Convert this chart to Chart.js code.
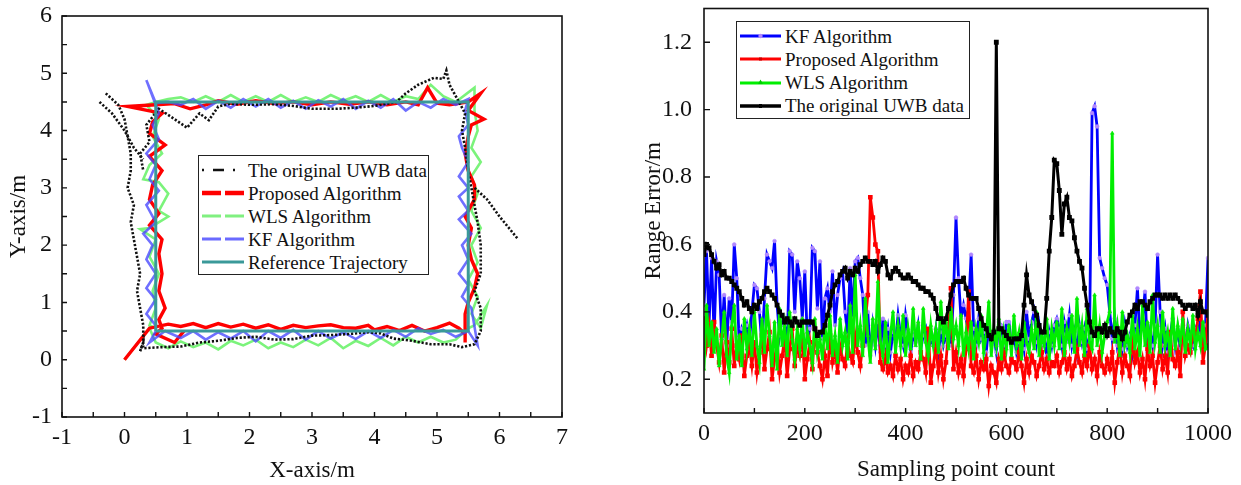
<!DOCTYPE html>
<html><head><meta charset="utf-8">
<script src="https://cdn.jsdelivr.net/npm/chart.js@4.4.0/dist/chart.umd.min.js"></script>
<style>
body{margin:0;background:#fff;width:1241px;height:485px;overflow:hidden;position:relative;font-family:"Liberation Serif","Times New Roman",serif}
#c1wrap{position:absolute;left:0;top:0;width:600px;height:485px}
#c2wrap{position:absolute;left:630px;top:0;width:611px;height:485px}
.legend{position:absolute;background:#fff;border:1.5px solid #222;box-sizing:border-box;font-size:19px;color:#111}
.row{position:absolute;left:0;height:23px;display:flex;align-items:center;white-space:nowrap;line-height:23px}
.row svg{flex:none}
</style></head><body>
<div id="c1wrap"><canvas id="c1" width="600" height="485"></canvas></div>
<div id="c2wrap"><canvas id="c2" width="611" height="485"></canvas></div>
<div id="leg1" class="legend" style="left:198px;top:155px;width:231px;height:120px"></div>
<div id="leg2" class="legend" style="left:736px;top:21px;width:234px;height:98px"></div>
<script>
// ---------------- LEFT CHART DATA (trajectories, metres) ----------------
const referenceXY = [[0.5,0.5],[5.5,0.5],[5.5,4.5],[0.5,4.5],[0.5,0.5]];
const proposedXY = [[0,0],[0.4,0.55],[0.7,0.62],[0.9,0.58],[1.1,0.63],[1.3,0.56],[1.5,0.63],[1.7,0.57],[1.9,0.62],[2.1,0.55],[2.3,0.61],[2.5,0.53],[2.7,0.6],[2.9,0.56],[3.1,0.59],[3.3,0.61],[3.5,0.56],[3.7,0.55],[3.9,0.6],[4.0,0.52],[4.2,0.58],[4.4,0.51],[4.6,0.6],[4.8,0.5],[5.0,0.56],[5.2,0.64],[5.35,0.55],[5.45,0.45],[5.45,0.3],[5.45,0.8],[5.5,1.0],[5.6,1.25],[5.65,1.5],[5.55,1.75],[5.5,2.0],[5.55,2.3],[5.45,2.5],[5.6,2.8],[5.6,3.05],[5.5,3.3],[5.45,3.6],[5.5,3.9],[5.55,4.1],[5.75,4.2],[5.5,4.35],[5.7,4.65],[5.5,4.5],[5.2,4.45],[5.0,4.48],[4.85,4.75],[4.7,4.45],[4.5,4.5],[4.2,4.45],[3.9,4.5],[3.6,4.46],[3.3,4.5],[3.0,4.45],[2.7,4.5],[2.4,4.47],[2.1,4.52],[1.8,4.46],[1.5,4.52],[1.3,4.45],[1.05,4.38],[0.8,4.47],[0.5,4.45],[0.05,4.42],[0.6,4.3],[0.45,4.15],[0.4,3.95],[0.65,3.75],[0.4,3.55],[0.6,3.3],[0.45,3.05],[0.4,2.8],[0.55,2.55],[0.4,2.35],[0.6,2.1],[0.55,1.85],[0.6,1.5],[0.55,1.2],[0.65,0.9],[0.55,0.7],[0.6,0.55],[0.5,0.45],[0.8,0.3],[0.95,0.5]];
const wlsXY = [[0,0],[0.4,0.55],[0.5,0.3],[0.7,0.2],[0.9,0.32],[1.1,0.22],[1.3,0.3],[1.5,0.18],[1.7,0.33],[1.9,0.25],[2.1,0.35],[2.3,0.2],[2.5,0.3],[2.7,0.22],[2.9,0.35],[3.1,0.25],[3.3,0.38],[3.5,0.2],[3.7,0.33],[3.9,0.24],[4.1,0.38],[4.3,0.25],[4.5,0.4],[4.7,0.3],[4.9,0.4],[5.1,0.3],[5.3,0.35],[5.5,0.55],[5.6,0.6],[5.8,0.95],[5.7,0.55],[5.55,0.8],[5.65,1.1],[5.5,1.4],[5.65,1.7],[5.55,2.0],[5.7,2.3],[5.55,2.6],[5.65,2.9],[5.55,3.2],[5.7,3.45],[5.55,3.7],[5.65,4.0],[5.6,4.35],[5.6,4.75],[5.3,4.5],[5.1,4.6],[4.9,4.8],[4.7,4.55],[4.5,4.6],[4.3,4.5],[4.1,4.62],[3.9,4.5],[3.7,4.6],[3.5,4.52],[3.3,4.62],[3.1,4.5],[2.9,4.58],[2.7,4.5],[2.5,4.62],[2.3,4.5],[2.1,4.6],[1.9,4.5],[1.7,4.62],[1.5,4.5],[1.3,4.6],[1.1,4.5],[0.9,4.58],[0.7,4.55],[0.5,4.5],[0.35,4.45],[0.55,4.2],[0.45,3.9],[0.6,3.6],[0.4,3.4],[0.3,3.15],[0.55,3.1],[0.7,2.9],[0.55,2.6],[0.7,2.5],[0.4,2.3],[0.25,2.28],[0.5,2.1],[0.4,1.8],[0.55,1.5],[0.45,1.2],[0.5,0.9],[0.4,0.6],[0.5,0.55]];
const kfXY = [[0.5,0.5],[0.4,0.3],[0.65,0.5],[0.9,0.38],[1.1,0.5],[1.3,0.35],[1.5,0.48],[1.7,0.37],[1.9,0.5],[2.1,0.32],[2.3,0.5],[2.5,0.38],[2.7,0.52],[2.9,0.35],[3.1,0.5],[3.3,0.37],[3.5,0.48],[3.7,0.36],[3.9,0.5],[4.1,0.38],[4.3,0.52],[4.5,0.4],[4.7,0.55],[4.9,0.45],[5.1,0.52],[5.3,0.4],[5.5,0.5],[5.65,0.25],[5.55,0.9],[5.4,1.1],[5.5,1.3],[5.35,1.5],[5.5,1.75],[5.4,2.0],[5.55,2.2],[5.35,2.45],[5.5,2.6],[5.35,2.85],[5.5,3.0],[5.35,3.2],[5.5,3.45],[5.4,3.7],[5.35,3.9],[5.5,4.1],[5.45,4.35],[5.5,4.55],[5.3,4.45],[5.1,4.55],[4.9,4.4],[4.7,4.5],[4.5,4.35],[4.3,4.55],[4.1,4.4],[3.9,4.52],[3.7,4.38],[3.5,4.55],[3.3,4.42],[3.1,4.53],[2.9,4.38],[2.7,4.52],[2.5,4.4],[2.3,4.55],[2.1,4.42],[1.9,4.55],[1.7,4.4],[1.5,4.52],[1.3,4.38],[1.1,4.55],[0.9,4.45],[0.7,4.5],[0.5,4.48],[0.35,4.88],[0.55,4.3],[0.45,4.1],[0.55,3.85],[0.35,3.6],[0.5,3.4],[0.4,3.15],[0.55,2.95],[0.35,2.7],[0.5,2.4],[0.3,2.2],[0.45,2.0],[0.35,1.75],[0.5,1.5],[0.35,1.25],[0.5,1.05],[0.35,0.8],[0.5,0.6]];
const uwbBottomRight = [[0.25,0.15],[0.3,0.3],[0.3,0.2],[0.6,0.22],[0.9,0.23],[1.2,0.3],[1.5,0.33],[1.8,0.38],[2.1,0.4],[2.4,0.35],[2.7,0.36],[3.0,0.42],[3.3,0.43],[3.6,0.45],[3.9,0.48],[4.1,0.46],[4.3,0.37],[4.6,0.33],[4.9,0.27],[5.2,0.27],[5.4,0.22],[5.6,0.27],[5.7,0.5],[5.7,0.9],[5.6,1.2],[5.7,1.5],[5.7,2.0],[5.65,2.4],[5.6,2.7],[5.55,3.0],[5.5,3.3]];
const uwbTop = [[5.5,3.3],[5.45,3.7],[5.4,4.0],[5.45,4.3],[5.3,4.6],[5.2,4.8],[5.15,5.05],[5.1,4.9],[4.95,4.92],[4.7,4.8],[4.5,4.65],[4.35,4.5],[4.0,4.43],[3.7,4.4],[3.4,4.38],[3.0,4.38],[2.7,4.43],[2.4,4.46],[2.0,4.45],[1.7,4.47],[1.5,4.42],[1.35,4.18],[1.2,4.3],[1.0,4.05],[0.8,4.2],[0.55,4.38],[0.35,4.1],[0.4,3.8],[0.25,3.6],[0.3,3.3]];
const uwbLeftOuter = [[-0.3,4.65],[-0.1,4.45],[0.0,4.2],[0.05,3.9],[0.1,3.6],[0.1,3.3],[0.05,3.0],[0.15,2.7],[0.1,2.4],[0.15,2.1],[0.2,1.8],[0.25,1.5],[0.2,1.2],[0.25,0.9],[0.3,0.6],[0.3,0.3],[0.25,0.15]];
const uwbLeftInner = [[-0.4,4.5],[-0.2,4.3],[0.0,4.0],[0.15,3.7],[0.3,3.5]];
const uwbTail = [[5.6,3.0],[5.8,2.8],[6.0,2.5],[6.3,2.1]];

// ---------------- RIGHT CHART DATA (range error, m) ----------------
const sampleStep = 5; // one value every 5 sampling points, 0..1000
const kfError = [
0.42,0.58,0.36,0.56,0.33,0.55,0.51,0.32,0.45,0.30,0.44,0.37,0.60,0.50,0.30,0.35,0.33,0.36,0.31,0.40,
0.48,0.47,0.40,0.30,0.44,0.57,0.55,0.53,0.61,0.42,0.33,0.38,0.36,0.30,0.58,0.57,0.40,0.55,0.50,0.38,
0.52,0.32,0.35,0.59,0.58,0.41,0.55,0.32,0.44,0.47,0.40,0.52,0.36,0.45,0.50,0.52,0.40,0.33,0.53,0.38,
0.55,0.56,0.50,0.45,0.30,0.40,0.27,0.36,0.30,0.37,0.28,0.38,0.30,0.35,0.28,0.34,0.31,0.39,0.33,0.30,
0.39,0.34,0.28,0.33,0.31,0.36,0.29,0.33,0.35,0.29,0.32,0.30,0.35,0.28,0.34,0.30,0.33,0.36,0.30,0.45,
0.68,0.50,0.38,0.42,0.38,0.41,0.57,0.35,0.30,0.38,0.32,0.34,0.28,0.36,0.30,0.33,0.28,0.37,0.36,0.30,
0.37,0.37,0.30,0.33,0.28,0.31,0.34,0.29,0.40,0.32,0.37,0.40,0.31,0.36,0.30,0.33,0.27,0.34,0.30,0.36,
0.38,0.35,0.30,0.37,0.33,0.39,0.30,0.34,0.28,0.36,0.31,0.35,0.29,0.33,0.99,1.01,0.95,0.56,0.53,0.50,
0.48,0.40,0.32,0.38,0.30,0.33,0.29,0.36,0.30,0.33,0.28,0.36,0.47,0.32,0.38,0.46,0.28,0.34,0.30,0.36,
0.57,0.40,0.30,0.35,0.28,0.33,0.38,0.30,0.35,0.29,0.34,0.30,0.36,0.32,0.30,0.35,0.33,0.38,0.29,0.36,
0.56];
const proposedError = [
0.38,0.30,0.36,0.27,0.37,0.30,0.25,0.33,0.22,0.31,0.25,0.35,0.24,0.30,0.26,0.33,0.21,0.27,0.30,0.24,
0.31,0.22,0.28,0.33,0.23,0.29,0.34,0.20,0.26,0.31,0.22,0.27,0.32,0.21,0.29,0.35,0.24,0.30,0.27,0.33,
0.20,0.26,0.31,0.23,0.35,0.28,0.24,0.20,0.27,0.21,0.33,0.25,0.29,0.22,0.30,0.26,0.24,0.31,0.27,0.25,
0.33,0.28,0.24,0.30,0.37,0.45,0.74,0.68,0.60,0.58,0.25,0.23,0.27,0.22,0.24,0.21,0.27,0.23,0.26,0.20,
0.24,0.22,0.27,0.21,0.25,0.23,0.28,0.26,0.22,0.35,0.19,0.24,0.30,0.22,0.27,0.20,0.25,0.34,0.47,0.23,
0.28,0.22,0.26,0.21,0.29,0.46,0.24,0.22,0.27,0.20,0.25,0.23,0.26,0.18,0.24,0.22,0.19,0.26,0.23,0.28,
0.24,0.22,0.26,0.25,0.23,0.28,0.24,0.19,0.26,0.22,0.27,0.25,0.21,0.24,0.28,0.23,0.26,0.22,0.25,0.24,
0.27,0.22,0.25,0.28,0.23,0.26,0.21,0.24,0.29,0.25,0.22,0.27,0.24,0.30,0.23,0.26,0.21,0.28,0.24,0.22,
0.26,0.23,0.28,0.19,0.25,0.30,0.22,0.27,0.24,0.21,0.33,0.25,0.28,0.22,0.26,0.20,0.29,0.24,0.27,0.19,
0.25,0.30,0.23,0.27,0.22,0.34,0.26,0.24,0.28,0.21,0.40,0.27,0.30,0.28,0.34,0.32,0.38,0.46,0.25,0.30,
0.40];
const wlsError = [
0.23,0.42,0.30,0.37,0.28,0.35,0.24,0.32,0.40,0.27,0.22,0.36,0.42,0.26,0.33,0.24,0.38,0.29,0.35,0.27,
0.40,0.30,0.25,0.38,0.28,0.42,0.33,0.24,0.37,0.23,0.41,0.30,0.36,0.27,0.40,0.32,0.26,0.35,0.29,0.38,
0.27,0.34,0.30,0.25,0.38,0.28,0.32,0.26,0.36,0.29,0.39,0.27,0.33,0.25,0.38,0.30,0.34,0.26,0.42,0.28,
0.51,0.30,0.36,0.27,0.44,0.33,0.25,0.38,0.29,0.49,0.31,0.27,0.37,0.25,0.33,0.40,0.28,0.36,0.30,0.39,
0.27,0.35,0.29,0.41,0.30,0.37,0.26,0.41,0.31,0.27,0.36,0.30,0.35,0.28,0.43,0.32,0.37,0.29,0.41,0.32,
0.36,0.30,0.39,0.27,0.34,0.29,0.37,0.26,0.35,0.31,0.39,0.28,0.33,0.43,0.27,0.35,0.30,0.38,0.26,0.34,
0.29,0.36,0.27,0.39,0.30,0.34,0.26,0.37,0.31,0.28,0.35,0.29,0.40,0.27,0.33,0.30,0.38,0.26,0.35,0.30,
0.37,0.29,0.41,0.27,0.35,0.31,0.39,0.28,0.44,0.30,0.36,0.27,0.41,0.31,0.29,0.45,0.30,0.36,0.28,0.33,
0.37,0.40,0.93,0.31,0.36,0.27,0.40,0.30,0.33,0.28,0.39,0.29,0.35,0.27,0.42,0.30,0.37,0.28,0.45,0.31,
0.36,0.28,0.40,0.30,0.34,0.27,0.41,0.29,0.36,0.31,0.38,0.28,0.35,0.30,0.39,0.29,0.34,0.30,0.37,0.29,
0.30];
const uwbError = [
0.57,0.60,0.59,0.57,0.55,0.53,0.54,0.51,0.52,0.50,0.50,0.49,0.48,0.47,0.46,0.44,0.42,0.43,0.41,0.40,
0.42,0.41,0.43,0.44,0.46,0.47,0.46,0.45,0.44,0.42,0.40,0.39,0.37,0.38,0.37,0.36,0.38,0.37,0.36,0.37,
0.37,0.37,0.37,0.37,0.35,0.33,0.34,0.34,0.36,0.39,0.42,0.46,0.48,0.49,0.51,0.52,0.53,0.50,0.52,0.51,
0.53,0.52,0.54,0.55,0.56,0.55,0.55,0.54,0.55,0.52,0.54,0.56,0.55,0.51,0.50,0.52,0.53,0.52,0.51,0.50,
0.50,0.51,0.50,0.49,0.49,0.48,0.47,0.47,0.46,0.46,0.45,0.44,0.41,0.38,0.38,0.37,0.38,0.41,0.45,0.48,
0.49,0.49,0.49,0.50,0.47,0.45,0.44,0.44,0.44,0.41,0.38,0.36,0.35,0.33,0.32,0.34,1.20,0.35,0.35,0.34,
0.33,0.32,0.31,0.32,0.32,0.32,0.33,0.42,0.51,0.45,0.43,0.41,0.39,0.36,0.34,0.34,0.44,0.58,0.68,0.85,
0.84,0.76,0.63,0.72,0.74,0.68,0.67,0.62,0.58,0.55,0.53,0.47,0.42,0.37,0.34,0.33,0.35,0.35,0.34,0.36,
0.33,0.35,0.34,0.33,0.35,0.34,0.32,0.34,0.37,0.39,0.40,0.42,0.41,0.43,0.43,0.42,0.41,0.43,0.44,0.45,
0.45,0.45,0.44,0.45,0.44,0.45,0.44,0.45,0.44,0.43,0.42,0.41,0.42,0.42,0.41,0.42,0.39,0.43,0.40,0.40,
0.39];
const errorTickValues = [0.2,0.4,0.6,0.8,1.0,1.2];

const leftLegendNames = ['The original UWB data','Proposed Algorithm','WLS Algorithm','KF Algorithm','Reference Trajectory'];
const rightLegendNames = ['KF Algorithm','Proposed Algorithm','WLS Algorithm','The original UWB data'];

// ---------------- helpers ----------------
const FONT = '"Liberation Serif", "Times New Roman", serif';
Chart.defaults.font.family = FONT;
Chart.defaults.color = '#111';
const toPts = arr => arr.map(p => ({x:p[0], y:p[1]}));
const toSeries = vals => vals.map((v,i) => ({x:i*sampleStep, y:v}));

function framePlugin(opt){
  return {id:'frame'+opt.id, afterDraw(chart){
    const {ctx, chartArea:a, scales} = chart;
    ctx.save();
    ctx.strokeStyle = '#111'; ctx.lineWidth = 1.6;
    ctx.strokeRect(a.left, a.top, a.right-a.left, a.bottom-a.top);
    ctx.lineWidth = 1.4;
    ctx.beginPath();
    opt.xMarks.forEach(m => { const px = scales.x.getPixelForValue(m[0]); ctx.moveTo(px, a.bottom); ctx.lineTo(px, a.bottom - m[1]); });
    opt.yMarks.forEach(m => { const py = scales.y.getPixelForValue(m[0]); ctx.moveTo(a.left, py); ctx.lineTo(a.left + m[1], py); });
    ctx.stroke();
    ctx.restore();
  }};
}
function marks(min,max,step,len){ const out=[]; for(let v=min; v<=max+1e-9; v+=step) out.push([+v.toFixed(3),len]); return out; }
function fixX(h){ return s => { s.height = h; s.paddingLeft = 0; s.paddingRight = 0; s.paddingTop = 0; s.paddingBottom = 0; }; }
function fixY(w){ return s => { s.width = w; s.paddingLeft = 0; s.paddingRight = 0; s.paddingTop = 0; s.paddingBottom = 0; }; }

const tickFont = {family:FONT, size:24};
const titleFont = {family:FONT, size:23};

// ---------------- LEFT CHART ----------------
const blackStyle = {borderColor:'#111', borderWidth:2.6, borderDash:[2.2,1.8], pointRadius:0, showLine:true, fill:false};
new Chart(document.getElementById('c1'), {
  type:'scatter',
  data:{datasets:[
    {data:toPts(referenceXY), borderColor:'#3a9999', borderWidth:3, pointRadius:0, showLine:true, order:1},
    {data:toPts(uwbBottomRight), ...blackStyle, order:2},
    {data:toPts(uwbTop), ...blackStyle, order:2},
    {data:toPts(uwbLeftOuter), ...blackStyle, order:2},
    {data:toPts(uwbLeftInner), ...blackStyle, order:2},
    {data:toPts(uwbTail), ...blackStyle, order:2},
    {data:toPts(kfXY), borderColor:'rgba(70,70,255,0.78)', borderWidth:2.6, pointRadius:0, showLine:true, order:3},
    {data:toPts(proposedXY), borderColor:'#ff0000', borderWidth:3.4, pointRadius:0, showLine:true, order:4},
    {data:toPts(wlsXY), borderColor:'rgba(90,240,90,0.8)', borderWidth:2.6, pointRadius:0, showLine:true, order:5}
  ]},
  options:{
    responsive:false, animation:false, events:[],
    layout:{padding:{top:16, right:38, left:0, bottom:0}},
    plugins:{legend:{display:false}, tooltip:{enabled:false}},
    scales:{
      x:{type:'linear', min:-1, max:7, ticks:{stepSize:1, padding:-2, color:'#111', font:tickFont, callback:v => String(v)},
         grid:{display:false}, border:{display:false},
         title:{display:true, text:'X-axis/m', color:'#111', font:titleFont, padding:{top:0,bottom:0}},
         afterFit:fixX(68)},
      y:{type:'linear', min:-1, max:6, ticks:{stepSize:1, padding:2, color:'#111', font:tickFont, callback:v => String(v)},
         grid:{display:false}, border:{display:false},
         title:{display:true, text:'Y-axis/m', color:'#111', font:titleFont, padding:{top:5,bottom:0}},
         afterFit:fixY(62)}
    }
  },
  plugins:[framePlugin({id:1, xMarks:marks(-1,7,0.5,5), yMarks:marks(-1,6,0.5,5)})]
});

// ---------------- RIGHT CHART ----------------
new Chart(document.getElementById('c2'), {
  type:'line',
  data:{datasets:[
    {data:toSeries(uwbError), borderColor:'#000', borderWidth:3, pointRadius:1.3, pointStyle:'rect', pointBackgroundColor:'#000', pointBorderColor:'#000', order:1},
    {data:toSeries(wlsError), borderColor:'#00ee00', borderWidth:2.8, pointRadius:2.2, pointStyle:'triangle', pointBackgroundColor:'#00ee00', pointBorderColor:'#00ee00', pointBorderWidth:0.5, order:2},
    {data:toSeries(proposedError), borderColor:'#ff0000', borderWidth:2.8, pointRadius:1.3, pointStyle:'rect', pointBackgroundColor:'#ff0000', pointBorderColor:'#ff0000', order:3},
    {data:toSeries(kfError), borderColor:'#0000ff', borderWidth:2.8, pointRadius:1.9, pointStyle:'circle', pointBackgroundColor:'#b088ff', pointBorderColor:'#b088ff', pointBorderWidth:0.5, order:4}
  ]},
  options:{
    responsive:false, animation:false, events:[],
    layout:{padding:{top:8.5, right:33, left:0, bottom:0}},
    plugins:{legend:{display:false}, tooltip:{enabled:false}},
    elements:{line:{tension:0}},
    scales:{
      x:{type:'linear', min:0, max:1000, ticks:{stepSize:200, padding:-2, color:'#111', font:tickFont, callback:v => String(v)},
         grid:{display:false}, border:{display:false},
         title:{display:true, text:'Sampling point count', color:'#111', font:titleFont, padding:{top:0,bottom:1}},
         afterFit:fixX(72)},
      y:{type:'linear', min:0.1, max:1.3,
         afterBuildTicks(s){ s.ticks = errorTickValues.map(v => ({value:v})); },
         ticks:{padding:4, color:'#111', font:tickFont, callback:v => Number(v).toFixed(1)},
         grid:{display:false}, border:{display:false},
         title:{display:true, text:'Range Error/m', color:'#111', font:titleFont, padding:{top:10,bottom:0}},
         afterFit:fixY(74)}
    }
  },
  plugins:[framePlugin({id:2, xMarks:marks(0,1000,100,5), yMarks:errorTickValues.map(v=>[v,6])})]
});

// ---------------- LEGENDS (HTML) ----------------
function sampleSvg(kind){
  const w = 46, h = 14, y = 7;
  if(kind==='uwbL') return `<svg width="${w}" height="${h}"><line x1="3" y1="${y}" x2="45" y2="${y}" stroke="#111" stroke-width="2.6" stroke-dasharray="2 9 11 9 2 20"/></svg>`;
  if(kind==='propL') return `<svg width="${w}" height="${h}"><line x1="3" y1="${y}" x2="45" y2="${y}" stroke="#ff0000" stroke-width="4.5" stroke-dasharray="19 4"/></svg>`;
  if(kind==='wlsL') return `<svg width="${w}" height="${h}"><line x1="3" y1="${y}" x2="45" y2="${y}" stroke="#80f080" stroke-width="3" stroke-dasharray="19 4"/></svg>`;
  if(kind==='kfL') return `<svg width="${w}" height="${h}"><line x1="3" y1="${y}" x2="45" y2="${y}" stroke="#6a6aff" stroke-width="3" stroke-dasharray="19 4"/></svg>`;
  if(kind==='refL') return `<svg width="${w}" height="${h}"><line x1="3" y1="${y}" x2="45" y2="${y}" stroke="#3a9999" stroke-width="3"/></svg>`;
  if(kind==='kfR') return `<svg width="${w}" height="${h}"><line x1="3" y1="${y}" x2="44" y2="${y}" stroke="#0000ff" stroke-width="3.2"/><circle cx="23.5" cy="${y}" r="2.2" fill="#b088ff"/></svg>`;
  if(kind==='propR') return `<svg width="${w}" height="${h}"><line x1="3" y1="${y}" x2="44" y2="${y}" stroke="#ff0000" stroke-width="3.2"/><rect x="22" y="${y-1.5}" width="3" height="3" fill="#c00"/></svg>`;
  if(kind==='wlsR') return `<svg width="${w}" height="${h}"><line x1="3" y1="${y}" x2="44" y2="${y}" stroke="#00ee00" stroke-width="3.2"/><polygon points="23.5,3.5 26,8 21,8" fill="#00cc00"/></svg>`;
  return `<svg width="${w}" height="${h}"><line x1="3" y1="${y}" x2="44" y2="${y}" stroke="#000" stroke-width="3.4"/><rect x="22" y="${y-2}" width="3" height="4" fill="#000"/></svg>`;
}
const leg1 = document.getElementById('leg1');
const leftKinds = ['uwbL','propL','wlsL','kfL','refL'];
const leftRowTops = [2.5,25.5,48.5,71.5,94.5];
leftLegendNames.forEach((n,i) => {
  const r = document.createElement('div'); r.className='row'; r.style.top = leftRowTops[i]+'px';
  r.innerHTML = sampleSvg(leftKinds[i]) + `<span style="margin-left:3px">${n}</span>`;
  leg1.appendChild(r);
});
const leg2 = document.getElementById('leg2');
const rightKinds = ['kfR','propR','wlsR','uwbR'];
const rightRowTops = [2.5,25.5,49,72];
rightLegendNames.forEach((n,i) => {
  const r = document.createElement('div'); r.className='row'; r.style.top = rightRowTops[i]+'px';
  r.innerHTML = sampleSvg(rightKinds[i]) + `<span style="margin-left:2px">${n}</span>`;
  leg2.appendChild(r);
});
</script>
</body></html>
